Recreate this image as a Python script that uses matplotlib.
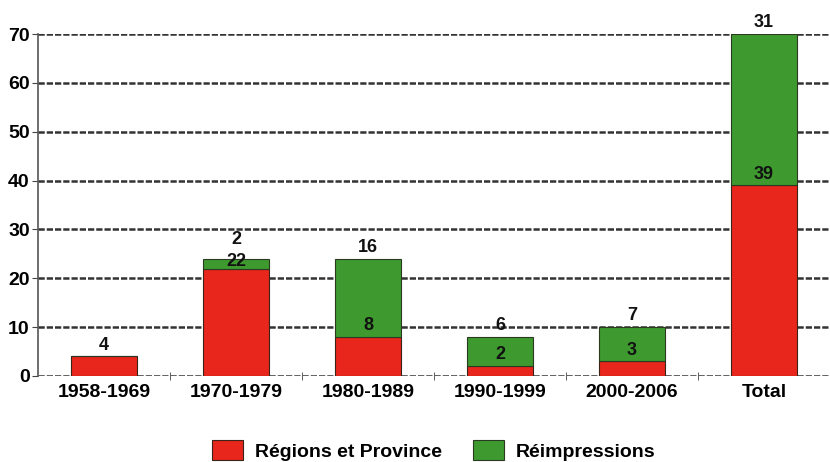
import matplotlib
matplotlib.use("Agg")
import matplotlib.pyplot as plt
import numpy as np

categories = ["1958-1969", "1970-1979", "1980-1989", "1990-1999", "2000-2006", "Total"]
regions = [4, 22, 8, 2, 3, 39]
reimpressions = [0, 2, 16, 6, 7, 31]
yticks = [0, 10, 20, 30, 40, 50, 60, 70]
legend_labels = ["Régions et Province", "Réimpressions"]

plt.rcParams['font.family'] = ['Liberation Sans', 'DejaVu Sans']
plt.rcParams['font.weight'] = 'bold'

fig = plt.figure(figsize=(8.3, 4.62), dpi=100)
ax = fig.add_axes([38/830, 1-376/462, 1-38/830, (376-34)/462])

x = np.arange(len(categories))
red = '#e8261c'
green = '#3e9a2f'
ax.bar(x, regions, width=0.5, color=red, edgecolor='#3a2418', linewidth=0.8, zorder=3,
       label=legend_labels[0])
ax.bar(x, reimpressions, width=0.5, bottom=regions, color=green, edgecolor='#2a3a20',
       linewidth=0.8, zorder=3, label=legend_labels[1])

for i in range(len(categories)):
    thin = 0 < reimpressions[i] < 4
    ax.annotate(str(regions[i]), (x[i], regions[i]), xytext=(0, -1 if thin else 2),
                textcoords='offset points', ha='center', va='bottom', fontsize=13,
                fontweight='bold', color='#111', zorder=5)
    if reimpressions[i] > 0:
        top = regions[i] + reimpressions[i]
        ax.annotate(str(reimpressions[i]), (x[i], top), xytext=(0, 8 if thin else 2),
                    textcoords='offset points', ha='center', va='bottom', fontsize=13,
                    fontweight='bold', color='#111', zorder=5, annotation_clip=False)

ax.set_xlim(-0.5, len(categories) - 0.5)
ax.set_ylim(0, 70)
ax.set_yticks(yticks)
ax.set_yticklabels([str(v) for v in yticks], fontsize=14, fontweight='bold')
ax.set_xticks(x)
ax.set_xticklabels(categories, fontsize=14, fontweight='bold')
ax.set_xticks(np.arange(0.5, len(categories) - 0.5, 1.0), minor=True)
ax.tick_params(axis='x', which='major', length=0, pad=6)
ax.tick_params(axis='x', which='minor', length=6, direction='inout', color='#444')
ax.tick_params(axis='y', which='major', length=4, direction='out', color='#444', pad=2)

for v in yticks:
    ax.axhline(v, color='#333333', linewidth=1.8, linestyle=(0, (2.5, 0.8)), zorder=1)

for s in ['top', 'right', 'bottom']:
    ax.spines[s].set_visible(False)
ax.spines['left'].set_color('#555')
ax.spines['left'].set_linewidth(1.2)

leg = fig.legend(loc='lower center', bbox_to_anchor=(434/830, -0.035), ncol=2, frameon=False,
                 prop={'weight': 'bold', 'size': 14}, handlelength=1.6,
                 handleheight=1.2, columnspacing=1.6, handletextpad=0.6)

fig.savefig("out.png", dpi=100)
